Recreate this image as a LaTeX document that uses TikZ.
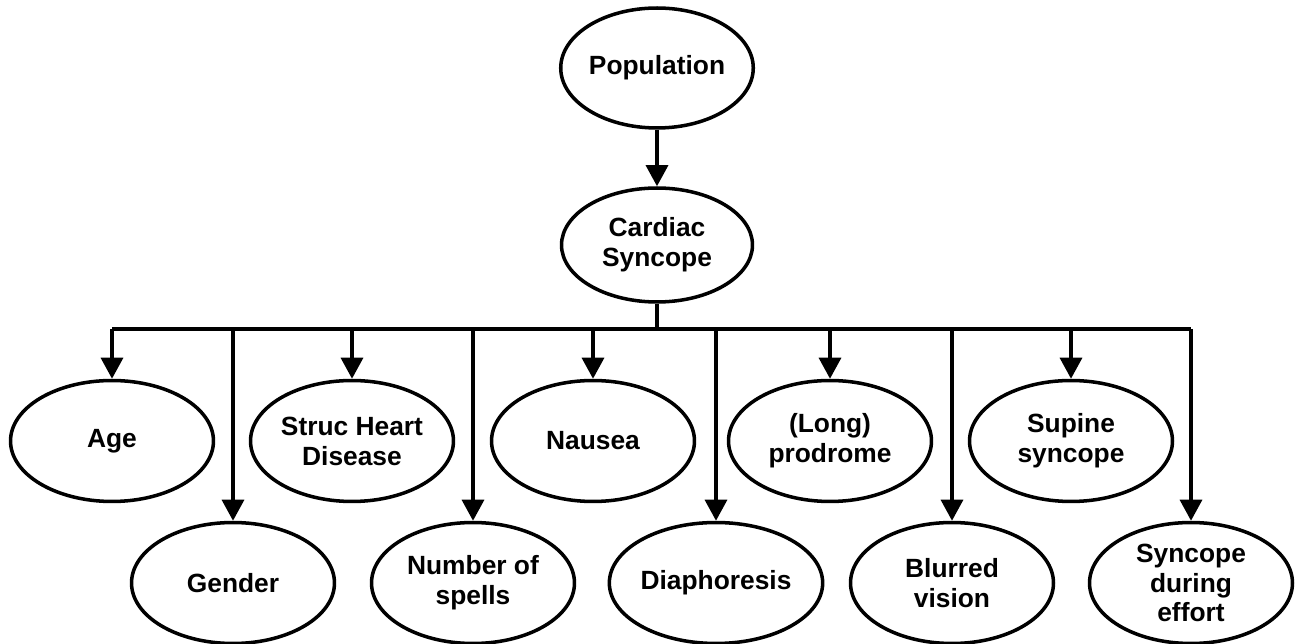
\documentclass[tikz,border=0pt]{standalone}
\usepackage{fontspec}
\setmainfont{Liberation Sans}
\usetikzlibrary{shapes.geometric,arrows.meta}
\begin{document}
\begin{tikzpicture}[x=0.02cm,y=-0.02cm,
  oval/.style={ellipse,draw,line width=2pt,inner sep=0pt,minimum width=4.06cm,minimum height=2.42cm,
    font=\bfseries\fontsize{15pt}{17pt}\selectfont,align=center},
  arr/.style={line width=2pt,-{Triangle[length=12pt,width=12.5pt]}},
  ln/.style={line width=2pt}]
\useasboundingbox (0,0) rectangle (1295,644);
\node[oval,minimum width=3.82cm,minimum height=2.4cm] (pop) at (657,68) {Population};
\node[oval,minimum width=3.82cm,minimum height=2.28cm] (cs) at (657,245) {Cardiac\\Syncope};
\coordinate (bus) at (657,329);
\coordinate (busL) at (112,329);
\coordinate (busR) at (1191,329);
\node[oval] (age) at (112,441) {Age};
\node[oval] (shd) at (352,441) {Struc Heart\\Disease};
\node[oval] (nau) at (593,441) {Nausea};
\node[oval] (pro) at (830,441) {(Long)\\prodrome};
\node[oval] (sup) at (1071,441) {Supine\\syncope};
\node[oval] (gen) at (233,583) {Gender};
\node[oval] (nos) at (473,583) {Number of\\spells};
\node[oval] (dia) at (716,583) {Diaphoresis};
\node[oval] (blu) at (952,583) {Blurred\\vision};
\node[oval] (sde) at (1191,583) {Syncope\\during\\effort};
\draw[arr] (pop) -- (cs);
\draw[ln] (cs.south) -- (bus);
\draw[ln] (busL) -- (busR);
\foreach \n in {age,shd,nau,pro,sup,gen,nos,dia,blu,sde}
  \draw[arr] (\n.north |- bus) -- (\n.north);
\end{tikzpicture}
\end{document}
